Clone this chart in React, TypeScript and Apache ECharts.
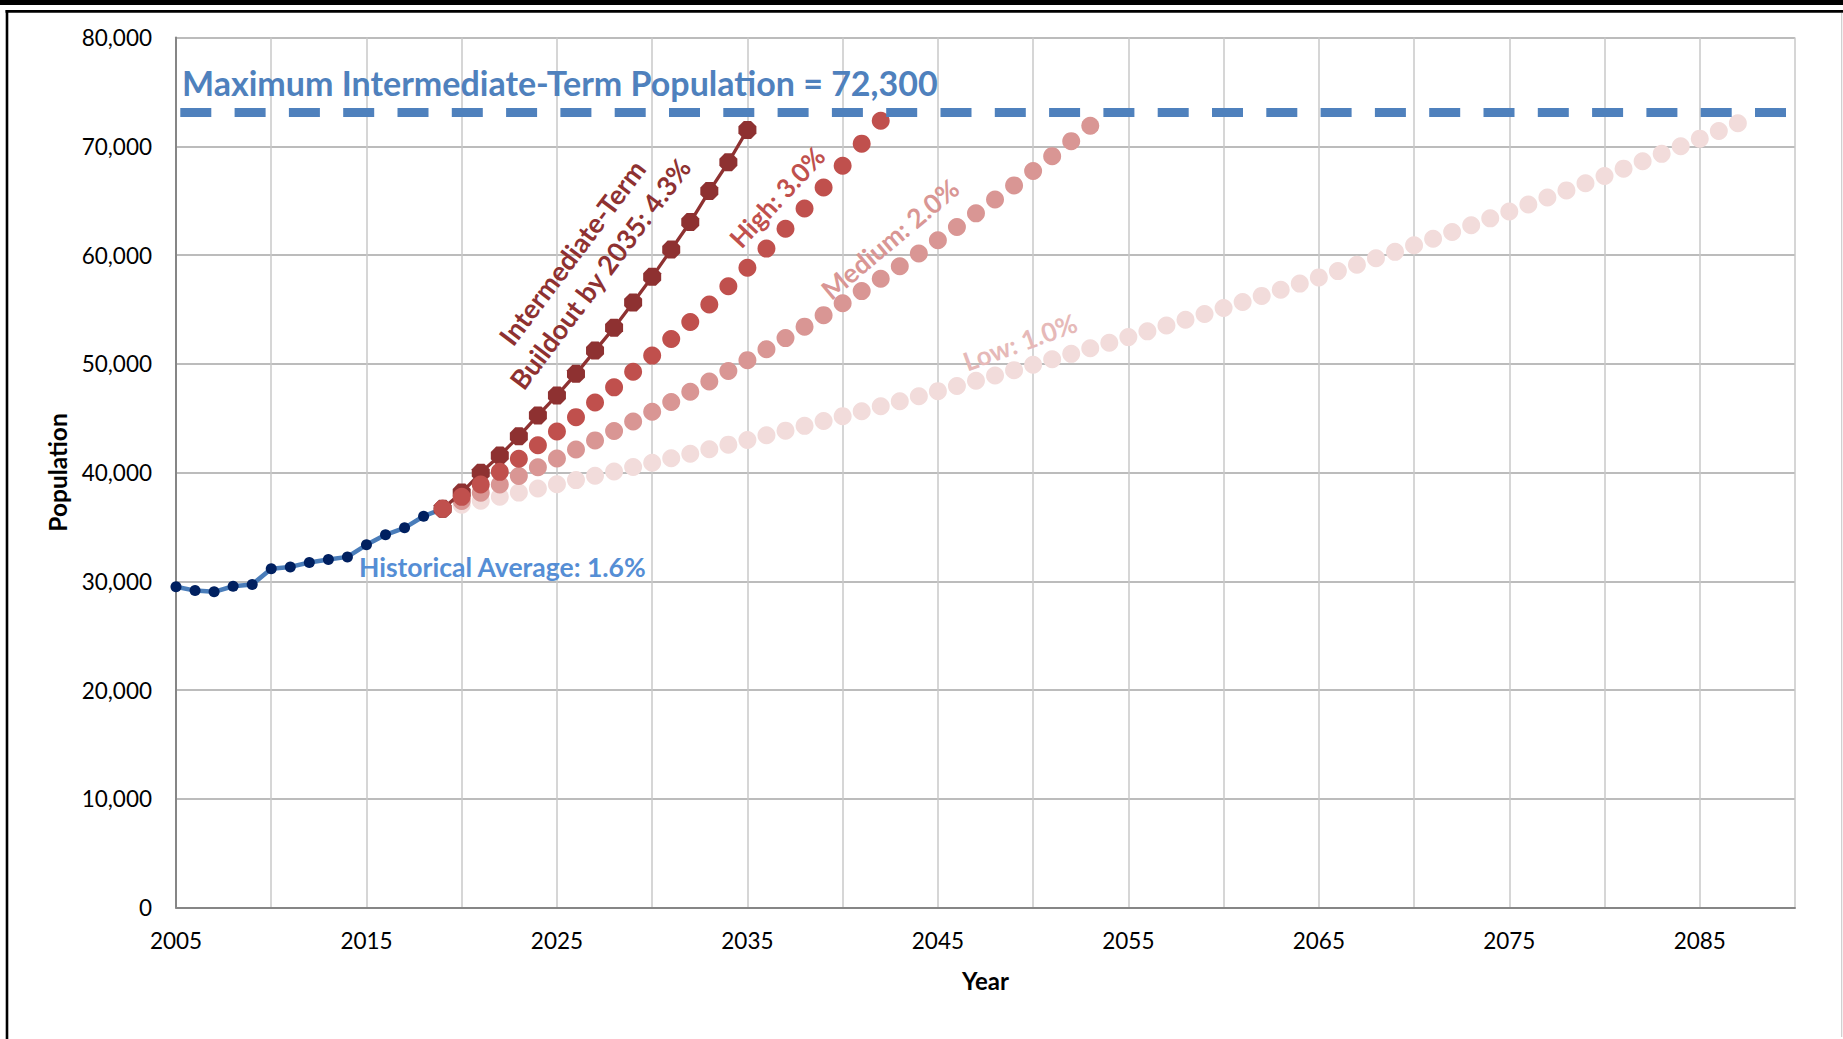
import React, { useEffect, useRef } from "react";
import * as echarts from "echarts";

// ---------- data ----------
const historicalStartYear = 2005;
const historicalPopulation = [
  29490, 29140, 29030, 29540, 29700, 31140, 31320, 31720, 32000, 32240, 33350,
  34270, 34910, 35980, 36660,
];

const projectionStartYear = 2019;
const intermediatePopulation = [
  36660, 38150, 39970, 41560, 43330, 45250, 47090, 49070, 51210, 53320, 55640,
  57990, 60500, 63030, 65880, 68530, 71500,
];
const highPopulation = [
  36660, 37760, 38890, 40060, 41260, 42500, 43770, 45090, 46440, 47830, 49270,
  50750, 52270, 53840, 55450, 57120, 58830, 60590, 62410, 64280, 66210, 68200,
  70240, 72350,
];
const mediumPopulation = [
  36660, 37390, 38140, 38900, 39680, 40480, 41290, 42110, 42950, 43810, 44690,
  45580, 46490, 47420, 48370, 49340, 50330, 51330, 52360, 53410, 54470, 55560,
  56680, 57810, 58970, 60140, 61350, 62570, 63830, 65100, 66400, 67730, 69090,
  70470, 71880,
];
const lowPopulation = [
  36660, 37030, 37400, 37770, 38150, 38530, 38920, 39300, 39700, 40090, 40500,
  40900, 41310, 41720, 42140, 42560, 42990, 43420, 43850, 44290, 44730, 45180,
  45630, 46090, 46550, 47010, 47480, 47960, 48440, 48920, 49410, 49910, 50410,
  50910, 51420, 51930, 52450, 52980, 53510, 54040, 54580, 55130, 55680, 56240,
  56800, 57370, 57940, 58520, 59100, 59700, 60290, 60900, 61500, 62120, 62740,
  63370, 64000, 64640, 65290, 65940, 66600, 67270, 67940, 68620, 69300, 70000,
  70700, 71400, 72120,
];

const maxLineValue = 73100; // where the dashed line is drawn
const maxLineYears = [2005, 2090];

const xTickLabels = [2005, 2015, 2025, 2035, 2045, 2055, 2065, 2075, 2085];
const yTickValues = [0, 10000, 20000, 30000, 40000, 50000, 60000, 70000, 80000];

const titleText = "Maximum Intermediate-Term Population = 72,300";
const historicalText = "Historical Average: 1.6%";
const intermediateText = "Intermediate-Term\nBuildout by 2035: 4.3%";
const highText = "High: 3.0%";
const mediumText = "Medium: 2.0%";
const lowText = "Low: 1.0%";

const FONT = "Lato, 'Open Sans', sans-serif";

const toPairs = (start: number, vals: number[]) =>
  vals.map((v, i) => [start + i, v]);

const octagon =
  "path://M30,0 L70,0 L100,30 L100,70 L70,100 L30,100 L0,70 L0,30 Z";

export default function App() {
  const ref = useRef<HTMLDivElement>(null);

  useEffect(() => {
    if (!ref.current) return;
    const chart = echarts.init(ref.current, undefined, { renderer: "svg" });
    const deg = (d: number) => (d * Math.PI) / 180;

    const label = (
      text: string,
      x: number,
      y: number,
      rot: number,
      color: string,
      size: number,
      extra: any = {}
    ) => ({
      type: "text",
      x,
      y,
      rotation: deg(rot),
      z: 10,
      style: {
        text,
        fill: color,
        fontFamily: FONT,
        fontWeight: "bold",
        fontSize: size,
        align: "center",
        verticalAlign: "middle",
        ...extra,
      },
    });

    const option: any = {
      animation: false,
      backgroundColor: "#ffffff",
      grid: { left: 176, top: 37.5, width: 1619, height: 870 },
      xAxis: {
        type: "value",
        min: 2005,
        max: 2090,
        interval: 5,
        name: "Year",
        nameLocation: "middle",
        nameGap: 61,
        nameTextStyle: {
          fontFamily: FONT,
          fontWeight: "bold",
          fontSize: 24,
          color: "#000",
        },
        axisLine: { show: true, lineStyle: { color: "#868686", width: 2 } },
        axisTick: { show: false },
        splitLine: { show: true, lineStyle: { color: "#C8C8C8", width: 1.5 } },
        axisLabel: {
          fontFamily: FONT,
          fontSize: 22.5,
          color: "#000",
          margin: 21,
          hideOverlap: false,
          showMinLabel: true,
          showMaxLabel: true,
          formatter: (v: number) =>
            xTickLabels.includes(Math.round(v)) ? String(Math.round(v)) : "",
        },
      },
      yAxis: {
        type: "value",
        min: 0,
        max: 80000,
        interval: 10000,
        name: "Population",
        nameLocation: "middle",
        nameGap: 106,
        nameTextStyle: {
          fontFamily: FONT,
          fontWeight: "bold",
          fontSize: 24.5,
          color: "#000",
        },
        axisLine: { show: true, lineStyle: { color: "#868686", width: 2 } },
        axisTick: { show: false },
        splitLine: { show: true, lineStyle: { color: "#A6A6A6", width: 1.5 } },
        axisLabel: {
          fontFamily: FONT,
          fontSize: 22.5,
          color: "#000",
          margin: 24,
          formatter: (v: number) =>
            yTickValues.includes(v) ? v.toLocaleString("en-US") : "",
        },
      },
      series: [
        {
          name: "Historical",
          type: "line",
          clip: false,
          data: toPairs(historicalStartYear, historicalPopulation),
          symbol: "circle",
          symbolSize: 11,
          itemStyle: { color: "#002060" },
          lineStyle: { color: "#4A7DBA", width: 4.5 },
          z: 2,
        },
        {
          name: "Low: 1.0%",
          type: "scatter",
          clip: false,
          data: toPairs(projectionStartYear, lowPopulation),
          symbol: "circle",
          symbolSize: 18,
          itemStyle: { color: "#F2DCDB", opacity: 1 },
          z: 3,
        },
        {
          name: "Medium: 2.0%",
          type: "scatter",
          clip: false,
          data: toPairs(projectionStartYear, mediumPopulation),
          symbol: "circle",
          symbolSize: 18,
          itemStyle: { color: "#D99694", opacity: 1 },
          z: 4,
        },
        {
          name: "Intermediate-Term Buildout by 2035: 4.3%",
          type: "line",
          clip: false,
          data: toPairs(projectionStartYear, intermediatePopulation),
          symbol: octagon,
          symbolSize: 18,
          itemStyle: { color: "#8E3131" },
          lineStyle: { color: "#8E3131", width: 3.3 },
          z: 5,
        },
        {
          name: "High: 3.0%",
          type: "scatter",
          clip: false,
          data: toPairs(projectionStartYear, highPopulation),
          symbol: "circle",
          symbolSize: 18,
          itemStyle: { color: "#C0504D", opacity: 1 },
          z: 6,
        },
        {
          name: "Maximum Intermediate-Term Population",
          type: "line",
          clip: false,
          data: maxLineYears.map((y) => [y, maxLineValue]),
          symbol: "none",
          lineStyle: {
            color: "#4F81BD",
            width: 9,
            type: [31, 23.3],
            dashOffset: 50.3,
            cap: "butt",
          },
          z: 7,
        },
      ],
      graphic: [
        { type: "rect", shape: { x: 0, y: 0, width: 1843, height: 5 }, style: { fill: "#000" } },
        { type: "rect", shape: { x: 5.5, y: 10, width: 1837.5, height: 2.7 }, style: { fill: "#000" } },
        { type: "rect", shape: { x: 5.7, y: 10, width: 2.6, height: 1029 }, style: { fill: "#000" } },
        { type: "rect", shape: { x: 1841, y: 13, width: 1.3, height: 1024 }, style: { fill: "#D0D0D0" } },
        label(titleText, 182, 82, 0, "#4F81BD", 34, { align: "left" }),
        label(historicalText, 359, 567, 0, "#558ED5", 26.5, { align: "left" }),
        label(intermediateText, 586, 263, 53, "#8E3131", 27, { lineHeight: 35 }),
        label(highText, 777, 197, 47, "#C0504D", 26),
        label(mediumText, 890, 239, 40, "#D99694", 26.5),
        label(lowText, 1020, 342, 20, "#E6B9B8", 26),
      ],
    };

    chart.setOption(option);
    return () => chart.dispose();
  }, []);

  return (
    <div
      ref={ref}
      style={{ position: "fixed", left: 0, top: 0, width: 1843, height: 1039, background: "#fff" }}
    />
  );
}
